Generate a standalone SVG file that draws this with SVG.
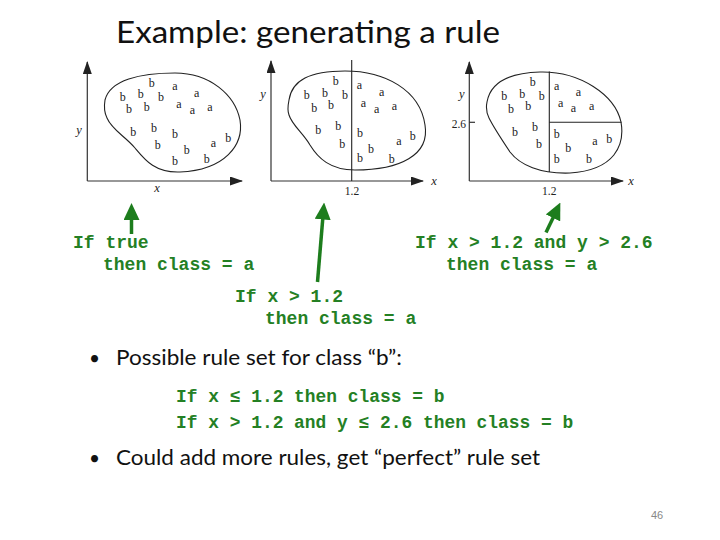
<svg xmlns="http://www.w3.org/2000/svg" width="720" height="540" viewBox="0 0 720 540">
<defs>
<style>
.ttl{font-family:Lato,"Open Sans",sans-serif;font-size:31px;fill:#111}
.bul{font-family:Lato,"Open Sans",sans-serif;font-size:22px;fill:#111}
.g{font-family:"Liberation Mono","Courier New",monospace;font-weight:bold;font-size:18px;fill:#248024}
.g2{font-family:"Liberation Mono","Courier New",monospace;font-weight:bold;font-size:17.9px;fill:#248024}
.pt{font-family:"Liberation Serif","Times New Roman",serif;font-size:12px;fill:#222;text-anchor:middle}
.ax{font-family:"Liberation Serif","Times New Roman",serif;font-size:12.5px;font-style:italic;fill:#222;text-anchor:middle}
.num{font-family:"Liberation Serif","Times New Roman",serif;font-size:11.5px;fill:#222;text-anchor:middle}
.axis{stroke:#333;stroke-width:1.2;fill:none}
.blob{stroke:#222;stroke-width:1.1;fill:none}
.cut{stroke:#222;stroke-width:1.1;fill:none}
.garr{stroke:#1d7d1d;stroke-width:3.5;fill:none}
</style>
<marker id="axh" markerUnits="userSpaceOnUse" markerWidth="13" markerHeight="9" viewBox="0 0 13 9" refX="12" refY="4.5" orient="auto">
<path d="M0,0 L13,4.5 L0,9 z" fill="#222"/>
</marker>
<marker id="gh" markerUnits="userSpaceOnUse" markerWidth="17" markerHeight="16" viewBox="0 0 17 16" refX="6" refY="8" orient="auto">
<path d="M0,0 L17,8 L0,16 z" fill="#1d7d1d"/>
</marker>
</defs>
<rect width="720" height="540" fill="#fff"/>

<g id="title"><text class="ttl" x="116" y="43" textLength="384" lengthAdjust="spacingAndGlyphs">Example: generating a rule</text></g>

<g id="plot1">
<line class="axis" x1="87.3" y1="181" x2="87.3" y2="62" marker-end="url(#axh)"/>
<line class="axis" x1="87.3" y1="181" x2="242" y2="181" marker-end="url(#axh)"/>
<text class="ax" x="79" y="134">y</text>
<text class="ax" x="157" y="192">x</text>
<path class="blob" d="M105,100 C110,80 140,73 175,73 C210,73 235,95 240,120 C244,145 225,170 180,172 C155,173 145,160 135,148 C125,136 112,130 107,118 C104,112 104,106 105,100 Z"/>
<text class="pt" x="151.7" y="87">b</text><text class="pt" x="175" y="90">a</text>
<text class="pt" x="122.7" y="100.5">b</text><text class="pt" x="140.7" y="98">b</text><text class="pt" x="161" y="101">b</text><text class="pt" x="196.7" y="96.5">a</text>
<text class="pt" x="129" y="112.7">b</text><text class="pt" x="146.7" y="111">b</text><text class="pt" x="179" y="107.5">a</text><text class="pt" x="192.3" y="114.2">a</text><text class="pt" x="210" y="110.8">a</text>
<text class="pt" x="133.3" y="136.4">b</text><text class="pt" x="154" y="132">b</text><text class="pt" x="175" y="138">b</text>
<text class="pt" x="157.7" y="148.7">b</text><text class="pt" x="186.7" y="153.7">b</text><text class="pt" x="213.3" y="146.8">a</text><text class="pt" x="228.3" y="142">b</text>
<text class="pt" x="175" y="164.7">b</text><text class="pt" x="206.7" y="162.7">b</text>
</g>

<g id="plot2">
<line class="axis" x1="271" y1="181" x2="271" y2="61" marker-end="url(#axh)"/>
<line class="axis" x1="271" y1="181" x2="423" y2="181" marker-end="url(#axh)"/>
<line class="cut" x1="351.7" y1="60" x2="351.7" y2="181"/>
<text class="ax" x="263" y="98">y</text>
<text class="ax" x="434" y="185">x</text>
<text class="num" x="352" y="195">1.2</text>
<path class="blob" d="M289,100 C292,80 310,71 345,71 C385,71 420,90 425,125 C430,155 400,170 355,170 C330,170 318,158 310,145 C303,133 292,125 289,115 C287,110 288,105 289,100 Z"/>
<text class="pt" x="335.7" y="84.7">b</text>
<text class="pt" x="306.7" y="98.7">b</text><text class="pt" x="325" y="97">b</text><text class="pt" x="345" y="99.4">b</text><text class="pt" x="359.3" y="89.2">a</text><text class="pt" x="381.7" y="95.8">a</text>
<text class="pt" x="314.3" y="112">b</text><text class="pt" x="331" y="109.4">b</text><text class="pt" x="363.3" y="106.8">a</text><text class="pt" x="376.7" y="112.5">a</text><text class="pt" x="394.3" y="109.8">a</text>
<text class="pt" x="318.3" y="133.7">b</text><text class="pt" x="338.3" y="130.4">b</text><text class="pt" x="360" y="137">b</text>
<text class="pt" x="342.3" y="147.7">b</text><text class="pt" x="371" y="152.7">b</text><text class="pt" x="399" y="144.8">a</text><text class="pt" x="412.7" y="140.4">b</text>
<text class="pt" x="360" y="162">b</text><text class="pt" x="391.7" y="162.7">b</text>
</g>

<g id="plot3">
<line class="axis" x1="469.3" y1="181" x2="469.3" y2="62" marker-end="url(#axh)"/>
<line class="axis" x1="469.3" y1="181" x2="623" y2="181" marker-end="url(#axh)"/>
<line class="axis" x1="469.3" y1="122.3" x2="475" y2="122.3"/>
<line class="cut" x1="549.3" y1="71.5" x2="549.3" y2="172"/>
<line class="cut" x1="549.3" y1="122.3" x2="621.5" y2="122.3"/>
<text class="ax" x="461.7" y="98">y</text>
<text class="ax" x="631" y="185">x</text>
<text class="num" x="549.3" y="195">1.2</text>
<text class="num" x="466" y="128" style="text-anchor:end">2.6</text>
<path class="blob" d="M487,102 C490,85 505,73 540,72 C580,71 615,95 621,122 C625,145 615,170 570,173 C540,174 520,165 510,152 C502,140 494,128 489,118 C486,112 486,107 487,102 Z"/>
<text class="pt" x="532.7" y="86">b</text>
<text class="pt" x="504.3" y="100.4">b</text><text class="pt" x="522.3" y="98">b</text><text class="pt" x="541.7" y="100.4">b</text><text class="pt" x="556.7" y="89.8">a</text><text class="pt" x="578.3" y="95.8">a</text>
<text class="pt" x="511" y="112.7">b</text><text class="pt" x="528.3" y="110.4">b</text><text class="pt" x="560.7" y="106.8">a</text><text class="pt" x="573.3" y="111.8">a</text><text class="pt" x="591.7" y="109.8">a</text>
<text class="pt" x="515" y="136">b</text><text class="pt" x="535" y="131.4">b</text><text class="pt" x="556.7" y="138">b</text>
<text class="pt" x="539" y="147.7">b</text><text class="pt" x="568.3" y="152">b</text><text class="pt" x="595" y="145.2">a</text><text class="pt" x="609.3" y="142.7">b</text>
<text class="pt" x="556.7" y="163">b</text><text class="pt" x="589" y="163">b</text>
</g>

<g id="connectors">
<line class="garr" x1="131.5" y1="234" x2="131.5" y2="214" marker-end="url(#gh)"/>
<line class="garr" x1="317.5" y1="282" x2="323.2" y2="213.5" marker-end="url(#gh)"/>
<line class="garr" x1="546" y1="232.5" x2="555.6" y2="212.5" marker-end="url(#gh)"/>
</g>

<g id="rule1">
<text class="g" x="73" y="248">If true</text>
<text class="g" x="103" y="270">then class = a</text>
</g>
<g id="rule2">
<text class="g" x="235" y="302">If x &gt; 1.2</text>
<text class="g" x="265" y="324">then class = a</text>
</g>
<g id="rule3">
<text class="g" x="415" y="248">If x &gt; 1.2 and y &gt; 2.6</text>
<text class="g" x="446" y="270">then class = a</text>
</g>

<g id="bullet1">
<text class="bul" x="89" y="365" style="font-size:19px">•</text>
<text class="bul" x="116" y="365" textLength="286" lengthAdjust="spacingAndGlyphs">Possible rule set for class “b”:</text>
</g>
<g id="ruleset">
<text class="g2" x="176" y="401.5">If x ≤ 1.2 then class = b</text>
<text class="g2" x="176" y="427.5">If x &gt; 1.2 and y ≤ 2.6 then class = b</text>
</g>
<g id="bullet2">
<text class="bul" x="89" y="465" style="font-size:19px">•</text>
<text class="bul" x="116" y="465" textLength="424" lengthAdjust="spacingAndGlyphs">Could add more rules, get “perfect” rule set</text>
</g>
<g id="pagenum"><text x="657" y="519" style="font-family:'Liberation Sans',Arial,sans-serif;font-size:11px;fill:#888;text-anchor:middle">46</text></g>
</svg>
